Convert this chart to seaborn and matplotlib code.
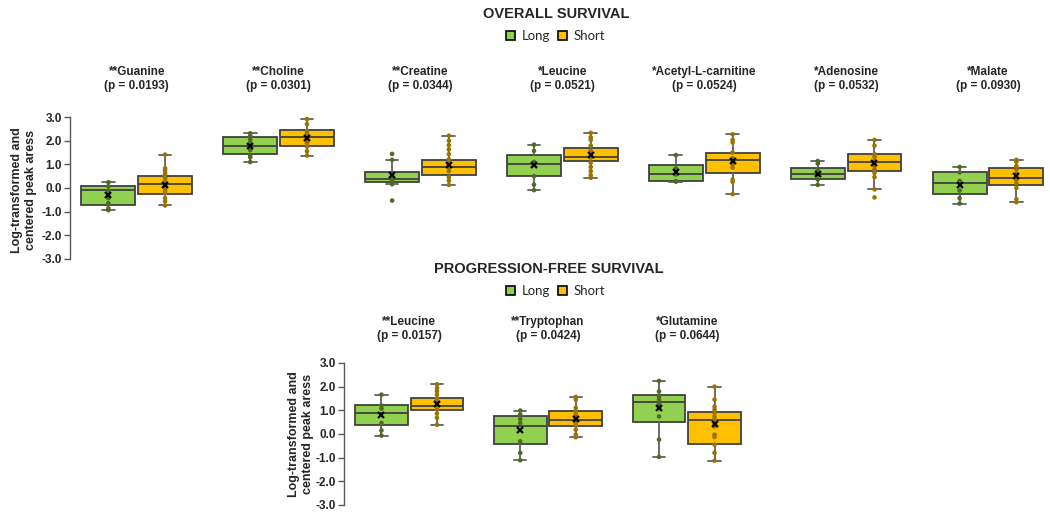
import numpy as np
import pandas as pd
import matplotlib.pyplot as plt
import seaborn as sns
from matplotlib.patches import Patch

GROUPS = ['Long', 'Short']
BOX_COLORS = {'Long': '#92D050', 'Short': '#FFC000'}
POINT_COLORS = {'Long': '#4F6B1F', 'Short': '#9A7400'}

# Overall survival
os_names = ['Guanine', 'Choline', 'Creatine', 'Leucine', 'Acetyl-L-carnitine', 'Adenosine', 'Malate']
os_stars = ['**', '**', '**', '*', '*', '*', '*']
os_pvals = ['0.0193', '0.0301', '0.0344', '0.0521', '0.0524', '0.0532', '0.0930']

# box stats: whisker low, q1, median, q3, whisker high, mean
os_long_box = [
    (-0.94, -0.74, -0.07, 0.07, 0.24, -0.31),
    (1.10, 1.44, 1.77, 2.17, 2.31, 1.79),
    (0.16, 0.26, 0.39, 0.66, 1.19, 0.53),
    (-0.09, 0.50, 1.03, 1.41, 1.83, 0.96),
    (0.27, 0.29, 0.59, 0.96, 1.39, 0.66),
    (0.13, 0.36, 0.61, 0.84, 1.14, 0.61),
    (-0.66, -0.24, 0.19, 0.66, 0.89, 0.14),
]
os_short_box = [
    (-0.74, -0.26, 0.17, 0.50, 1.41, 0.14),
    (1.37, 1.79, 2.17, 2.43, 2.91, 2.11),
    (0.13, 0.53, 0.89, 1.20, 2.21, 0.96),
    (0.43, 1.14, 1.31, 1.71, 2.33, 1.39),
    (-0.26, 0.64, 1.17, 1.49, 2.27, 1.14),
    (-0.06, 0.71, 1.09, 1.43, 2.03, 1.04),
    (-0.60, 0.11, 0.41, 0.84, 1.19, 0.49),
]
os_long_pts = [
    [0.24, 0.07, -0.11, -0.31, -0.43, -0.64, -0.86, -0.94],
    [2.31, 2.20, 2.05, 1.90, 1.79, 1.60, 1.40, 1.30, 1.10],
    [1.44, 1.19, 0.57, 0.43, 0.29, 0.22, 0.16, -0.53],
    [1.83, 1.57, 1.10, 1.00, 0.50, 0.14, -0.09],
    [1.39, 0.83, 0.71, 0.57, 0.29, 0.27],
    [1.14, 1.03, 0.79, 0.57, 0.36, 0.13],
    [0.89, 0.66, 0.30, -0.11, -0.43, -0.66],
]
os_short_pts = [
    [1.41, 0.83, 0.74, 0.63, 0.54, 0.43, 0.31, 0.21, 0.11, 0.00, -0.11, -0.21, -0.43, -0.57, -0.74],
    [2.91, 2.70, 2.40, 2.30, 2.20, 2.10, 2.00, 1.90, 1.75, 1.55, 1.37],
    [2.21, 2.00, 1.81, 1.63, 1.43, 1.21, 1.07, 0.97, 0.86, 0.71, 0.46, 0.31, 0.13],
    [2.33, 2.14, 2.03, 1.79, 1.57, 1.43, 1.29, 1.07, 0.89, 0.71, 0.54, 0.43],
    [2.27, 2.03, 1.93, 1.50, 1.26, 1.14, 1.00, 0.86, 0.36, 0.26, -0.26],
    [2.03, 1.79, 1.43, 1.31, 1.14, 1.03, 0.93, 0.79, 0.64, 0.46, -0.06, -0.40],
    [1.19, 1.11, 0.93, 0.79, 0.60, 0.49, 0.36, 0.21, 0.00, -0.47, -0.60],
]

# Progression-free survival
pfs_names = ['Leucine', 'Tryptophan', 'Glutamine']
pfs_stars = ['**', '**', '*']
pfs_pvals = ['0.0157', '0.0424', '0.0644']
pfs_long_box = [
    (-0.07, 0.39, 0.87, 1.23, 1.66, 0.80),
    (-1.11, -0.44, 0.35, 0.75, 0.99, 0.17),
    (-0.97, 0.52, 1.34, 1.63, 2.24, 1.10),
]
pfs_short_box = [
    (0.39, 1.00, 1.20, 1.54, 2.10, 1.27),
    (-0.14, 0.32, 0.59, 0.97, 1.56, 0.63),
    (-1.13, -0.41, 0.60, 0.93, 2.00, 0.41),
]
pfs_long_pts = [
    [1.66, 1.20, 1.07, 0.46, 0.15, -0.07],
    [0.99, 0.82, 0.63, 0.46, -0.31, -0.80, -1.11],
    [2.24, 1.80, 1.59, 1.45, 1.28, 1.10, 0.74, -0.24, -0.97],
]
pfs_short_pts = [
    [2.10, 1.94, 1.80, 1.66, 1.51, 1.38, 1.20, 1.03, 0.86, 0.68, 0.39],
    [1.56, 1.45, 1.10, 0.96, 0.82, 0.68, 0.54, 0.39, 0.18, -0.03, -0.14],
    [2.00, 1.45, 1.16, 1.03, 0.89, 0.74, 0.60, 0.43, 0.32, -0.03, -0.13, -0.45, -0.80, -1.13],
]

sns.set_style('white')
plt.rcParams['font.family'] = ['Liberation Sans', 'DejaVu Sans']

YLABEL = 'Log-transformed and\ncentered peak aress'
EDGE = '#404040'


def to_stats(box):
    lo, q1, med, q3, hi, mean = box
    return {'whislo': lo, 'q1': q1, 'med': med, 'q3': q3, 'whishi': hi, 'mean': mean, 'fliers': []}


def draw_panel(ax, names, stars, pvals, long_box, short_box, long_pts, short_pts, xlim, title_y):
    rows = []
    for name, lp, sp in zip(names, long_pts, short_pts):
        rows += [(name, 'Long', v) for v in lp]
        rows += [(name, 'Short', v) for v in sp]
    df = pd.DataFrame(rows, columns=['metabolite', 'group', 'value'])

    x = np.arange(len(names))
    for grp, boxes, offset in [('Long', long_box, -0.2), ('Short', short_box, 0.2)]:
        ax.bxp([to_stats(b) for b in boxes], positions=x + offset, widths=0.38,
               capwidths=0.09, patch_artist=True, showmeans=True, showfliers=False,
               manage_ticks=False,
               boxprops=dict(facecolor=BOX_COLORS[grp], edgecolor=EDGE, linewidth=1.3),
               medianprops=dict(color=EDGE, linewidth=1.3),
               whiskerprops=dict(color='#606060', linewidth=1.3),
               capprops=dict(color='#606060', linewidth=1.3),
               meanprops=dict(marker='x', markeredgecolor='black', markersize=5,
                              markeredgewidth=1.6, zorder=5))

    sns.stripplot(data=df, x='metabolite', y='value', hue='group', order=names,
                  hue_order=GROUPS, dodge=True, jitter=False, palette=POINT_COLORS,
                  size=3.3, legend=False, ax=ax, zorder=4)

    for i, (s, n, p) in enumerate(zip(stars, names, pvals)):
        ax.text(i, title_y, f'{s}{n}\n(p = {p})', transform=ax.get_xaxis_transform(),
                ha='center', va='center', fontsize=8.5, fontweight='bold', linespacing=1.25)

    ax.set_xlim(*xlim)
    ax.set_ylim(-3, 3)
    ticks = np.arange(-3, 3.01, 1.0)
    ax.set_yticks(ticks, [f'{t:.1f}' for t in ticks], fontsize=8.5, fontweight='bold')
    ax.set_xticks([])
    ax.set_xlabel('')
    ax.set_ylabel('')
    for side in ['top', 'right', 'bottom']:
        ax.spines[side].set_visible(False)
    ax.spines['left'].set_color('#595959')
    ax.spines['left'].set_linewidth(1.0)
    ax.tick_params(axis='y', left=True, length=4, width=1.0, color='#595959', pad=2)


fig = plt.figure(figsize=(10.5, 5.2), dpi=100)
ax_os = fig.add_axes([0.0667, 0.502, 0.9283, 0.273])
ax_pfs = fig.add_axes([0.3276, 0.029, 0.3886, 0.273])

draw_panel(ax_os, os_names, os_stars, os_pvals, os_long_box, os_short_box,
           os_long_pts, os_short_pts, (-0.47, 6.40), 1.27)
draw_panel(ax_pfs, pfs_names, pfs_stars, pfs_pvals, pfs_long_box, pfs_short_box,
           pfs_long_pts, pfs_short_pts, (-0.47, 2.47), 1.24)

fig.text(0.023, 0.635, YLABEL, rotation=90, ha='center', va='center',
         fontsize=9, fontweight='bold', multialignment='center')
fig.text(0.287, 0.165, YLABEL, rotation=90, ha='center', va='center',
         fontsize=9, fontweight='bold', multialignment='center')

handles = [Patch(facecolor=BOX_COLORS[g], edgecolor='black', linewidth=1.2) for g in GROUPS]
fig.text(0.530, 0.973, 'OVERALL SURVIVAL', ha='center', va='center', fontsize=10.5, fontweight='bold')
fig.text(0.523, 0.483, 'PROGRESSION-FREE SURVIVAL', ha='center', va='center', fontsize=10.5, fontweight='bold')
for y in [0.931, 0.440]:
    fig.legend(handles, GROUPS, loc='center', bbox_to_anchor=(0.529, y), ncol=2, frameon=False,
               handlelength=0.7, handleheight=0.7, handletextpad=0.5, columnspacing=0.6,
               prop={'family': 'Lato', 'size': 9.5})

fig.savefig('out.png', dpi=100)
